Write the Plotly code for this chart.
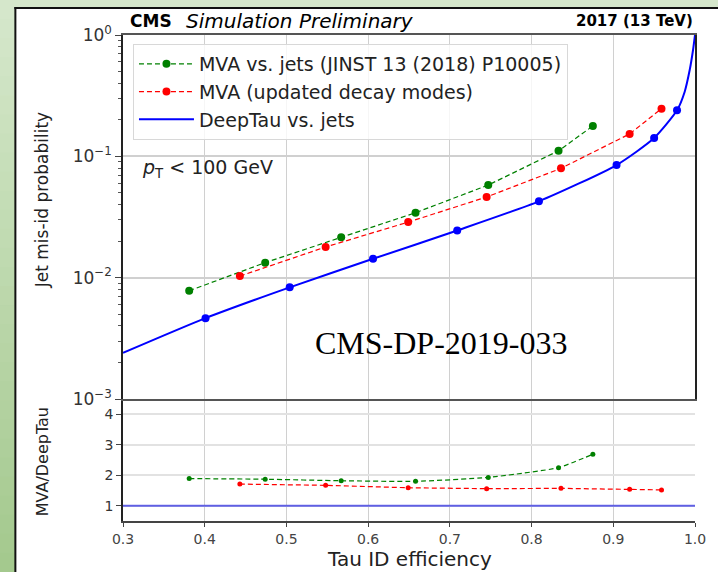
import plotly.graph_objects as go

# ---------------- data ----------------
eff_mva_old = [0.381, 0.474, 0.567, 0.658, 0.747, 0.833, 0.875]
mis_mva_old = [0.0078, 0.0133, 0.0215, 0.0343, 0.058, 0.111, 0.178]
ratio_mva_old = [1.89, 1.87, 1.82, 1.80, 1.93, 2.25, 2.69]

eff_mva_new = [0.443, 0.548, 0.649, 0.745, 0.836, 0.920, 0.959]
mis_mva_new = [0.0103, 0.0179, 0.0287, 0.0462, 0.0796, 0.153, 0.247]
ratio_mva_new = [1.71, 1.67, 1.59, 1.56, 1.57, 1.54, 1.52]

eff_deep_curve = [0.3, 0.401, 0.504, 0.606, 0.709, 0.809, 0.904, 0.950, 0.978, 0.9874, 0.9935, 0.9976, 1.0]
mis_deep_curve = [0.0024, 0.00464, 0.00832, 0.0143, 0.0245, 0.0426, 0.0848, 0.1416, 0.2394, 0.341, 0.514, 0.752, 1.0]

eff_deep_wp = [0.401, 0.504, 0.606, 0.709, 0.809, 0.904, 0.950, 0.978]
mis_deep_wp = [0.00464, 0.00832, 0.0143, 0.0245, 0.0426, 0.0848, 0.1416, 0.2394]

eff_ratio_ref = [0.3, 1.0]
ratio_ref = [1.0, 1.0]

x_ticks = [0.3, 0.4, 0.5, 0.6, 0.7, 0.8, 0.9, 1.0]
x_ticklabels = ["0.3", "0.4", "0.5", "0.6", "0.7", "0.8", "0.9", "1.0"]
y_ticks = [1, 0.1, 0.01, 0.001]
y_ticklabels = ["10<sup>0</sup>", "10<sup>\u22121</sup>", "10<sup>\u22122</sup>", "10<sup>\u22123</sup>"]
r_ticks = [1, 2, 3, 4]

GREEN = "#008000"
RED = "#ff0000"
BLUE = "#0000ff"
FONT = "DejaVu Sans"

# ---------------- geometry (pixels) ----------------
FW, FH = 718, 572
L, R, T, B = 123, 697, 35, 521
W, H = R - L, B - T
SPLIT = 399


def px2x(px):
    return (px - L) / W


def py2y(py):
    return (B - py) / H


fig = go.Figure()

# top panel
fig.add_trace(go.Scatter(
    x=eff_mva_old, y=mis_mva_old, mode="lines+markers", name="MVA vs. jets (JINST 13 (2018) P10005)",
    line=dict(color=GREEN, width=1.2, dash="5px,3px"), marker=dict(color=GREEN, size=8),
    xaxis="x2", yaxis="y2"))
fig.add_trace(go.Scatter(
    x=eff_mva_new, y=mis_mva_new, mode="lines+markers", name="MVA (updated decay modes)",
    line=dict(color=RED, width=1.2, dash="5px,3px"), marker=dict(color=RED, size=8),
    xaxis="x2", yaxis="y2"))
fig.add_trace(go.Scatter(
    x=eff_deep_curve, y=mis_deep_curve, mode="lines", name="DeepTau vs. jets",
    line=dict(color=BLUE, width=2, shape="spline", smoothing=0.6), xaxis="x2", yaxis="y2"))
fig.add_trace(go.Scatter(
    x=eff_deep_wp, y=mis_deep_wp, mode="markers", showlegend=False,
    marker=dict(color=BLUE, size=8), xaxis="x2", yaxis="y2"))

# ratio panel
fig.add_trace(go.Scatter(
    x=eff_mva_old, y=ratio_mva_old, mode="lines+markers", showlegend=False,
    line=dict(color=GREEN, width=1.2, dash="5px,3px", shape="spline", smoothing=0.5),
    marker=dict(color=GREEN, size=5), xaxis="x", yaxis="y"))
fig.add_trace(go.Scatter(
    x=eff_mva_new, y=ratio_mva_new, mode="lines+markers", showlegend=False,
    line=dict(color=RED, width=1.2, dash="5px,3px"), marker=dict(color=RED, size=5),
    xaxis="x", yaxis="y"))
fig.add_trace(go.Scatter(
    x=eff_ratio_ref, y=ratio_ref, mode="lines", showlegend=False,
    line=dict(color="rgba(40,40,230,0.7)", width=2), xaxis="x", yaxis="y"))

# ---------------- background decoration ----------------
shapes = []
top_c = (0xd5, 0xe7, 0xcb)
bot_c = (0xa4, 0xc9, 0x8e)
n = 30
for i in range(n):
    t = i / (n - 1)
    c = tuple(int(round(top_c[k] + (bot_c[k] - top_c[k]) * t)) for k in range(3))
    y0 = FH * i / n
    y1 = FH * (i + 1) / n + 1
    shapes.append(dict(type="rect", xref="paper", yref="paper", layer="below",
                       x0=px2x(-5), x1=px2x(15), y0=py2y(y1), y1=py2y(y0),
                       fillcolor="rgb(%d,%d,%d)" % c, line=dict(width=0)))
# white panel
shapes.append(dict(type="rect", xref="paper", yref="paper", layer="below",
                   x0=px2x(15), x1=px2x(730), y0=py2y(590), y1=py2y(8),
                   fillcolor="white", line=dict(width=0)))
# border lines
shapes.append(dict(type="line", xref="paper", yref="paper", layer="below",
                   x0=px2x(15), x1=px2x(15), y0=py2y(590), y1=py2y(7),
                   line=dict(color="#111", width=2)))
shapes.append(dict(type="line", xref="paper", yref="paper", layer="below",
                   x0=px2x(14), x1=px2x(730), y0=py2y(8), y1=py2y(8),
                   line=dict(color="#111", width=2)))

annotations = [
    dict(text="<b>CMS</b>", x=px2x(128), y=py2y(21), xref="paper", yref="paper",
         xanchor="left", yanchor="middle", showarrow=False, font=dict(family=FONT, size=17, color="black")),
    dict(text="<i>Simulation Preliminary</i>", x=px2x(184), y=py2y(21), xref="paper", yref="paper",
         xanchor="left", yanchor="middle", showarrow=False, font=dict(family=FONT, size=20, color="black")),
    dict(text="<b>2017 (13 TeV)</b>", x=px2x(697), y=py2y(21), xref="paper", yref="paper",
         xanchor="right", yanchor="middle", showarrow=False, font=dict(family=FONT, size=15, color="black")),
    dict(text="<i>p</i><sub>T</sub> < 100 GeV", x=px2x(140), y=py2y(168), xref="paper", yref="paper",
         xanchor="left", yanchor="middle", showarrow=False, font=dict(family=FONT, size=19, color="#222")),
    dict(text="CMS-DP-2019-033", x=px2x(442), y=py2y(343), xref="paper", yref="paper",
         xanchor="center", yanchor="middle", showarrow=False, font=dict(family="Liberation Serif", size=32, color="black")),
    dict(text="Jet mis-id probability", x=px2x(42), y=py2y(200), xref="paper", yref="paper", textangle=-90,
         xanchor="center", yanchor="middle", showarrow=False, font=dict(family=FONT, size=17, color="#222")),
    dict(text="MVA/DeepTau", x=px2x(42), y=py2y(462), xref="paper", yref="paper", textangle=-90,
         xanchor="center", yanchor="middle", showarrow=False, font=dict(family=FONT, size=16, color="#222")),
    dict(text="Tau ID efficiency", x=px2x(410), y=py2y(559), xref="paper", yref="paper",
         xanchor="center", yanchor="middle", showarrow=False, font=dict(family=FONT, size=20, color="#222")),
]

split_frac = py2y(SPLIT)
GRID = "#d0d0d0"

fig.update_layout(
    width=FW, height=FH,
    margin=dict(l=L, r=FW - R, t=T, b=FH - B, pad=0),
    paper_bgcolor="#d5e7cb", plot_bgcolor="white",
    font=dict(family=FONT, color="#333"),
    shapes=shapes, annotations=annotations,
    showlegend=True,
    legend=dict(x=px2x(133), y=py2y(44), xanchor="left", yanchor="top",
                bgcolor="rgba(255,255,255,0.8)", bordercolor="#d8d8d8", borderwidth=1,
                font=dict(family=FONT, size=19, color="#222"), itemwidth=55, tracegroupgap=0),
    xaxis=dict(domain=[0, 1], anchor="y", range=[0.3, 1.0], tickvals=x_ticks, ticktext=x_ticklabels,
               ticks="outside", ticklen=4, tickcolor="#444", showgrid=True, gridcolor=GRID, gridwidth=1,
               showline=True, linecolor="#444", linewidth=1.5, mirror=False, zeroline=False,
               tickfont=dict(family=FONT, size=14, color="#444")),
    yaxis=dict(domain=[0, split_frac], anchor="x", range=[0.5, 4.5], tickvals=r_ticks,
               ticks="outside", ticklen=5, tickcolor="#444", showgrid=True, gridcolor="#e2e2e2", gridwidth=1.5,
               showline=True, linecolor="#222", linewidth=1.5, zeroline=False,
               tickfont=dict(family=FONT, size=14, color="#333")),
    xaxis2=dict(domain=[0, 1], anchor="y2", range=[0.3, 1.0], tickvals=x_ticks, showticklabels=False,
                ticks="", showgrid=True, gridcolor=GRID, gridwidth=1, matches="x",
                showline=True, linecolor="#555", linewidth=2, mirror=True, zeroline=False),
    yaxis2=dict(domain=[split_frac, 1], anchor="x2", type="log", range=[-3, 0], tickvals=y_ticks,
                ticktext=y_ticklabels, ticks="outside", ticklen=6, tickcolor="#444",
                showgrid=True, gridcolor=GRID, gridwidth=1.5,
                showline=True, linecolor="#222", linewidth=1.5, mirror=True, zeroline=False,
                minor=dict(ticks="outside", ticklen=3, tickcolor="#555", dtick="D1", showgrid=False),
                tickfont=dict(family=FONT, size=17, color="#333")),
)

fig.write_html("out.html")
